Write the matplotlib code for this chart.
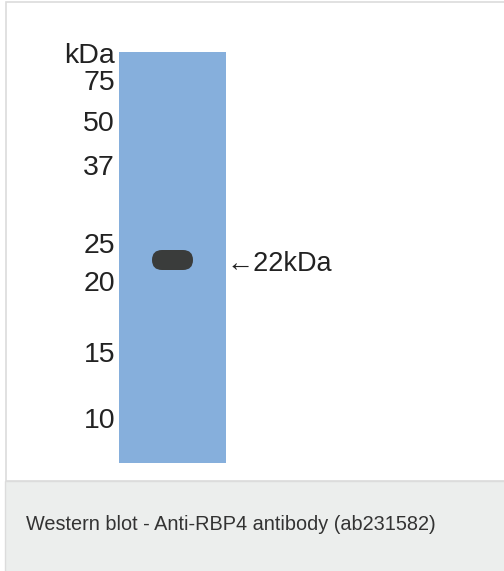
import matplotlib.pyplot as plt
from matplotlib.patches import Rectangle, FancyBboxPatch

# Marker ladder (kDa) and where each one sits on the gel (px from figure top)
marker_kda = [75, 50, 37, 25, 20, 15, 10]
marker_pos = [80, 121, 165, 243, 281, 352, 418]

band_kda = 22
band_pos = 260
band_label = '←22kDa'
caption = 'Western blot - Anti-RBP4 antibody (ab231582)'

W, H = 504, 571
fig = plt.figure(figsize=(W / 100, H / 100), dpi=100)
ax = fig.add_axes([0, 0, 1, 1])
ax.set_xlim(0, W)
ax.set_ylim(H, 0)
ax.axis('off')

# panel frame and caption strip
ax.add_patch(Rectangle((5.5, 1.5), W + 10, 479, facecolor='white',
                       edgecolor='#dcdcdc', lw=1.2))
ax.add_patch(Rectangle((5, 480.5), W + 10, 100, facecolor='#eceeed',
                       edgecolor='#dcdcdc', lw=1.0))
ax.text(26, 524, caption, fontsize=14.3, color='#333333',
        family='Liberation Sans', va='center', ha='left')

# gel lane
ax.bar(172, 411, bottom=52, width=107, color='#86afdc', edgecolor='none')

# ladder labels
lab_kw = dict(fontsize=20.5, color='#222222', family='Liberation Sans',
              ha='right', va='center_baseline')
ax.text(115, 53, 'kDa', **lab_kw)
for kda, pos in zip(marker_kda, marker_pos):
    ax.text(115, pos, str(kda), **lab_kw)

# band
ax.add_patch(FancyBboxPatch((152, band_pos - 10), 41, 20,
                            boxstyle='round,pad=0,rounding_size=10',
                            facecolor='#3a3c3b', edgecolor='none'))
ax.text(226, band_pos + 1, band_label, fontsize=19.5, color='#222222',
        family='Liberation Sans', ha='left', va='center_baseline')

fig.savefig('out.png', dpi=100)
